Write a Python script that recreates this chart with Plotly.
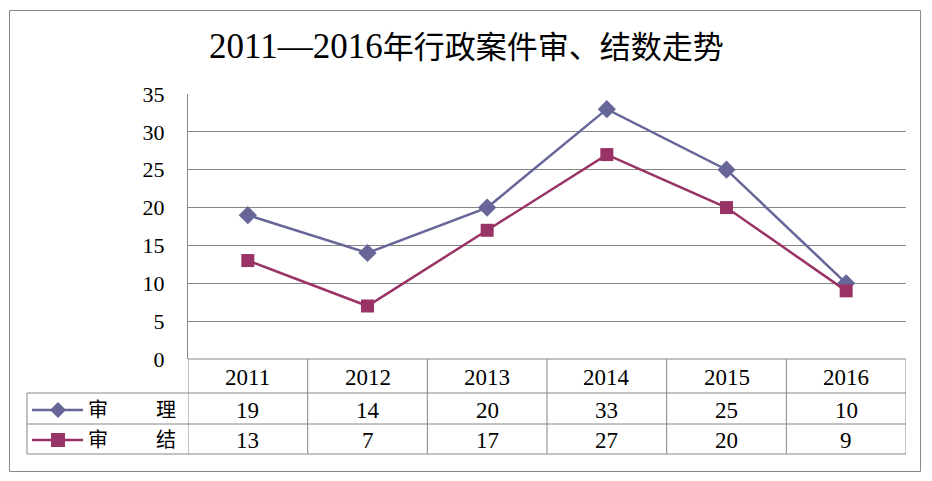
import plotly.graph_objects as go

years = ["2011", "2012", "2013", "2014", "2015", "2016"]
series_names = ["审理", "审结"]
shenli = [19, 14, 20, 33, 25, 10]
shenjie = [13, 7, 17, 27, 20, 9]
title_digits = "2011—2016"
title_rest = "年行政案件审、结数走势"

colors = ["#666699", "#993366"]
symbols = ["diamond", "square"]
msizes = [14, 13]

W, H = 932, 481
L, R, T, B = 188, 906, 94, 359
GRID = "#878787"
FONT = "Liberation Serif, Noto Sans CJK SC, serif"


def px(x):
    return (x - L) / (R - L)


def py(y):
    return (B - y) / (B - T)


fig = go.Figure()
idx = list(range(len(years)))
for name, vals, c, s, ms in zip(series_names, [shenli, shenjie], colors, symbols, msizes):
    fig.add_trace(go.Scatter(
        x=idx, y=vals, mode="lines+markers", name=name,
        line=dict(color=c, width=2.5),
        marker=dict(symbol=s, size=ms, color=c, line=dict(width=0)),
        showlegend=False, hoverinfo="x+y+name",
    ))

shapes = []
# outer border
shapes.append(dict(type="rect", xref="paper", yref="paper", x0=px(9.5), x1=px(920.5), y0=py(10.5), y1=py(471.5),
                   line=dict(color="#888888", width=1), layer="below"))
# table horizontal lines
row_y = [359, 393, 424, 454]
for i, yy in enumerate(row_y):
    x0 = 188 if i == 0 else 27
    shapes.append(dict(type="line", xref="paper", yref="paper", x0=px(x0), x1=px(906), y0=py(yy), y1=py(yy),
                       line=dict(color=GRID, width=1)))
# vertical lines
shapes.append(dict(type="line", xref="paper", yref="paper", x0=px(27), x1=px(27), y0=py(393), y1=py(454),
                   line=dict(color=GRID, width=1)))
for k in range(len(years) + 1):
    shapes.append(dict(type="line", xref="x", yref="paper", x0=k - 0.5, x1=k - 0.5, y0=py(359), y1=py(454),
                       line=dict(color=GRID, width=1)))

annotations = []
# header years
for k, yr in enumerate(years):
    annotations.append(dict(x=k, y=py(377), xref="x", yref="paper", text=yr, showarrow=False,
                            font=dict(size=23, color="black", family=FONT), xanchor="center", yanchor="middle"))
# values
for vals, yy in zip([shenli, shenjie], [410, 440]):
    for k, v in enumerate(vals):
        annotations.append(dict(x=k, y=py(yy), xref="x", yref="paper", text=str(v), showarrow=False,
                                font=dict(size=23, color="black", family=FONT), xanchor="center", yanchor="middle"))
# legend keys in table
for name, c, s, yy in zip(series_names, colors, symbols, [410, 440]):
    shapes.append(dict(type="line", xref="paper", yref="paper", x0=px(32), x1=px(83), y0=py(yy), y1=py(yy),
                       line=dict(color=c, width=2.5)))
    cx, cy = 58, yy
    if s == "diamond":
        path = f"M {px(cx-8)},{py(cy)} L {px(cx)},{py(cy-8)} L {px(cx+8)},{py(cy)} L {px(cx)},{py(cy+8)} Z"
    else:
        path = f"M {px(cx-7)},{py(cy-7)} L {px(cx+7)},{py(cy-7)} L {px(cx+7)},{py(cy+7)} L {px(cx-7)},{py(cy+7)} Z"
    shapes.append(dict(type="path", xref="paper", yref="paper", path=path, fillcolor=c, line=dict(width=0)))
    annotations.append(dict(x=px(98), y=py(yy), xref="paper", yref="paper", text=name[0], showarrow=False,
                            font=dict(size=20, color="black", family=FONT), xanchor="center", yanchor="middle"))
    annotations.append(dict(x=px(166), y=py(yy), xref="paper", yref="paper", text=name[1], showarrow=False,
                            font=dict(size=20, color="black", family=FONT), xanchor="center", yanchor="middle"))

# title
title_html = f'<span style="font-size:35px">{title_digits}</span>{title_rest}'
annotations.append(dict(x=px(466), y=py(46), xref="paper", yref="paper", text=title_html, showarrow=False,
                        font=dict(size=31, color="black", family=FONT), xanchor="center", yanchor="middle"))

fig.update_layout(
    width=W, height=H,
    margin=dict(l=L, r=W - R, t=T, b=H - B, pad=0),
    paper_bgcolor="white", plot_bgcolor="white",
    xaxis=dict(range=[-0.5, len(years) - 0.5], showgrid=False, showticklabels=False, zeroline=False,
               showline=False, ticks="", fixedrange=True),
    yaxis=dict(range=[0, 35], dtick=5, showgrid=True, gridcolor=GRID, gridwidth=1, zeroline=False,
               showline=True, linecolor=GRID, linewidth=1, ticks="", ticklabelstandoff=18,
               tickfont=dict(size=22, color="black", family=FONT), fixedrange=True),
    shapes=shapes, annotations=annotations,
    font=dict(family=FONT),
)

fig.write_html("out.html", config={"displayModeBar": False},
               post_script="document.body.style.margin='0';document.body.style.padding='0';")
